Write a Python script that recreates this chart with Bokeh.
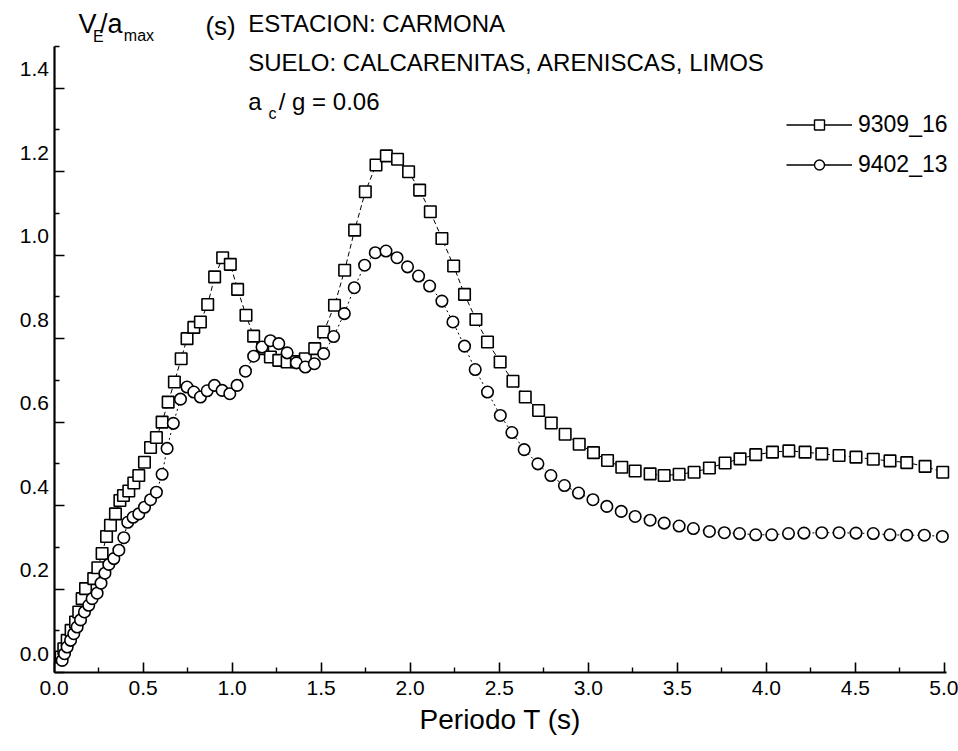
from bokeh.plotting import figure
from bokeh.models import (FixedTicker, LabelSet, Label, ColumnDataSource, Legend,
                          LegendItem, PrintfTickFormatter, Range1d)
from bokeh.core.properties import value
from bokeh.embed import file_html
from bokeh.resources import INLINE

FONT = "Liberation Sans"

# Spectrum of record 9309_16 (period T in s, V_E/a_max in s)
t_9309 = [0.040, 0.055, 0.074, 0.096, 0.121, 0.139, 0.158, 0.177, 0.223, 0.246,
          0.270, 0.295, 0.317, 0.345, 0.370, 0.390, 0.420, 0.448, 0.476, 0.508,
          0.542, 0.575, 0.607, 0.641, 0.676, 0.714, 0.747, 0.785, 0.822, 0.863,
          0.902, 0.947, 0.990, 1.031, 1.078, 1.121, 1.172, 1.215, 1.262, 1.309,
          1.361, 1.411, 1.464, 1.514, 1.575, 1.632, 1.688, 1.748, 1.808, 1.866,
          1.929, 1.991, 2.053, 2.113, 2.178, 2.244, 2.305, 2.369, 2.434, 2.505,
          2.577, 2.646, 2.721, 2.792, 2.870, 2.949, 3.029, 3.108, 3.188, 3.263,
          3.347, 3.426, 3.510, 3.594, 3.680, 3.768, 3.852, 3.940, 4.034, 4.126,
          4.217, 4.311, 4.408, 4.503, 4.600, 4.694, 4.788, 4.891, 4.990]
v_9309 = [0.037, 0.057, 0.077, 0.101, 0.121, 0.145, 0.177, 0.201, 0.225, 0.251,
          0.285, 0.326, 0.353, 0.380, 0.412, 0.424, 0.435, 0.454, 0.472, 0.504,
          0.539, 0.563, 0.600, 0.648, 0.696, 0.752, 0.800, 0.827, 0.840, 0.882,
          0.948, 0.994, 0.978, 0.918, 0.856, 0.806, 0.776, 0.756, 0.748, 0.744,
          0.745, 0.752, 0.776, 0.816, 0.880, 0.964, 1.060, 1.152, 1.216, 1.238,
          1.230, 1.200, 1.156, 1.104, 1.040, 0.974, 0.906, 0.846, 0.792, 0.744,
          0.698, 0.660, 0.628, 0.598, 0.571, 0.547, 0.527, 0.508, 0.492, 0.483,
          0.476, 0.472, 0.475, 0.480, 0.490, 0.502, 0.512, 0.522, 0.528, 0.531,
          0.528, 0.524, 0.520, 0.516, 0.511, 0.507, 0.503, 0.494, 0.480]

# Spectrum of record 9402_13
t_9402 = [0.046, 0.059, 0.074, 0.093, 0.111, 0.130, 0.149, 0.171, 0.195, 0.214,
          0.242, 0.264, 0.286, 0.308, 0.336, 0.364, 0.392, 0.414, 0.444, 0.476,
          0.508, 0.542, 0.575, 0.607, 0.635, 0.670, 0.710, 0.747, 0.785, 0.822,
          0.860, 0.901, 0.944, 0.987, 1.028, 1.075, 1.121, 1.168, 1.215, 1.262,
          1.309, 1.361, 1.411, 1.462, 1.514, 1.570, 1.630, 1.686, 1.744, 1.804,
          1.864, 1.926, 1.985, 2.047, 2.109, 2.178, 2.240, 2.305, 2.365, 2.434,
          2.506, 2.571, 2.640, 2.717, 2.790, 2.866, 2.945, 3.026, 3.104, 3.185,
          3.263, 3.347, 3.426, 3.510, 3.590, 3.680, 3.764, 3.849, 3.940, 4.030,
          4.124, 4.211, 4.311, 4.408, 4.503, 4.600, 4.694, 4.788, 4.887, 4.988]
v_9402 = [0.029, 0.045, 0.061, 0.077, 0.093, 0.109, 0.126, 0.145, 0.161, 0.177,
          0.190, 0.214, 0.238, 0.259, 0.273, 0.293, 0.323, 0.360, 0.372, 0.380,
          0.396, 0.414, 0.432, 0.475, 0.537, 0.597, 0.655, 0.684, 0.672, 0.660,
          0.675, 0.688, 0.676, 0.668, 0.688, 0.722, 0.758, 0.780, 0.795, 0.788,
          0.766, 0.742, 0.732, 0.740, 0.764, 0.805, 0.860, 0.922, 0.976, 1.006,
          1.010, 0.994, 0.972, 0.950, 0.926, 0.890, 0.840, 0.782, 0.726, 0.672,
          0.616, 0.575, 0.534, 0.500, 0.472, 0.448, 0.430, 0.414, 0.398, 0.386,
          0.374, 0.365, 0.358, 0.351, 0.345, 0.338, 0.335, 0.333, 0.330, 0.330,
          0.333, 0.334, 0.335, 0.335, 0.334, 0.333, 0.330, 0.329, 0.329, 0.326]

series_names = ["9309_16", "9402_13"]

x_major = [0.0, 0.5, 1.0, 1.5, 2.0, 2.5, 3.0, 3.5, 4.0, 4.5, 5.0]
x_minor = [0.25, 0.75, 1.25, 1.75, 2.25, 2.75, 3.25, 3.75, 4.25, 4.75]
y_major = [0.0, 0.2, 0.4, 0.6, 0.8, 1.0, 1.2, 1.4]
y_minor = [0.1, 0.3, 0.5, 0.7, 0.9, 1.1, 1.3, 1.5]
y_labels = ["0.0", "0.2", "0.4", "0.6", "0.8", "1.0", "1.2", "1.4"]

# the frame spans the whole page; both axes sit at the data origin
p = figure(width=958, height=751, x_range=Range1d(-0.3004, 5.0786),
           y_range=Range1d(-0.1893, 1.6103), output_backend="svg",
           toolbar_location=None, min_border=0)
p.grid.visible = False
p.outline_line_color = None
p.background_fill_color = "white"
p.border_fill_color = "white"

p.xaxis.fixed_location = 0
p.yaxis.fixed_location = 0
p.xaxis.bounds = (0, 5.01)
p.yaxis.bounds = (0, 1.5)
p.xaxis.ticker = FixedTicker(ticks=x_major, minor_ticks=x_minor)
p.yaxis.ticker = FixedTicker(ticks=y_major, minor_ticks=y_minor)
for ax in (p.xaxis[0], p.yaxis[0]):
    ax.axis_line_width = 2.2
    ax.axis_line_color = "black"
    ax.major_tick_in = 10
    ax.major_tick_out = 0
    ax.minor_tick_in = 5
    ax.minor_tick_out = 0
    ax.major_tick_line_width = 1.6
    ax.minor_tick_line_width = 1.4
    ax.major_tick_line_color = "black"
    ax.minor_tick_line_color = "black"

p.xaxis.formatter = PrintfTickFormatter(format="%.1f")
p.xaxis.major_label_text_font = FONT
p.xaxis.major_label_text_font_size = "21px"
p.xaxis.major_label_text_color = "black"
p.xaxis.major_label_standoff = 8
p.xaxis.axis_label = "Periodo T (s)"
p.xaxis.axis_label_text_font = FONT
p.xaxis.axis_label_text_font_size = "28px"
p.xaxis.axis_label_text_font_style = "normal"
p.xaxis.axis_label_text_color = "black"
p.xaxis.axis_label_standoff = 6

# y tick labels are set slightly above their ticks
p.yaxis.major_label_text_color = None
ylab_src = ColumnDataSource(dict(x=[0.0] * len(y_major), y=y_major, text=y_labels))
p.add_layout(LabelSet(x="x", y="y", text="text", source=ylab_src, x_offset=-5, y_offset=19,
                      text_align="right", text_baseline="middle", text_font=value(FONT),
                      text_font_size="21px", text_color="black"))

# curves
p.line(t_9309, v_9309, line_color="black", line_width=1, line_dash="5 3")
p.scatter(t_9309, v_9309, marker="square", size=11.5, fill_color="white",
          line_color="black", line_width=1.6)
p.line(t_9402, v_9402, line_color="black", line_width=1, line_dash="2 3")
p.scatter(t_9402, v_9402, marker="circle", size=11.5, fill_color="white",
          line_color="black", line_width=1.6)

# legend keys: solid line with the series marker
k1 = p.line(t_9309, v_9309, line_color="black", line_width=1.4, visible=False)
m1 = p.scatter(t_9309, v_9309, marker="square", fill_color="white", line_color="black",
               line_width=1.4, visible=False)
k2 = p.line(t_9402, v_9402, line_color="black", line_width=1.4, visible=False)
m2 = p.scatter(t_9402, v_9402, marker="circle", fill_color="white", line_color="black",
               line_width=1.4, visible=False)
legend = Legend(items=[LegendItem(label=series_names[0], renderers=[k1, m1]),
                       LegendItem(label=series_names[1], renderers=[k2, m2])],
                location=(786, 573), padding=0, margin=0, spacing=13,
                glyph_width=66, glyph_height=25, label_height=25, label_standoff=6,
                label_text_font=FONT, label_text_font_size="23px",
                label_text_color="black",
                border_line_color=None, background_fill_alpha=0)
p.add_layout(legend)

# header texts
def txt(x, y, s, size, **kw):
    p.add_layout(Label(x=x, y=y, text=s, text_font=FONT, text_font_size=size,
                       text_color="black", text_baseline="middle", **kw))

txt(0.1376, 1.555, "V", "27px")
txt(0.2190, 1.523, "E", "16px")
txt(0.258, 1.553, "/a", "27px")
txt(0.392, 1.527, "max", "16px")
txt(0.850, 1.550, "(s)", "26px")

txt(1.090, 1.555, "ESTACION: CARMONA", "24px")
txt(1.090, 1.462, "SUELO: CALCARENITAS, ARENISCAS, LIMOS", "24px")
txt(1.090, 1.369, "a", "24px")
txt(1.204, 1.340, "c", "16px")
txt(1.262, 1.369, "/ g = 0.06", "24px")

open("out.html", "w").write(file_html(p, INLINE))
